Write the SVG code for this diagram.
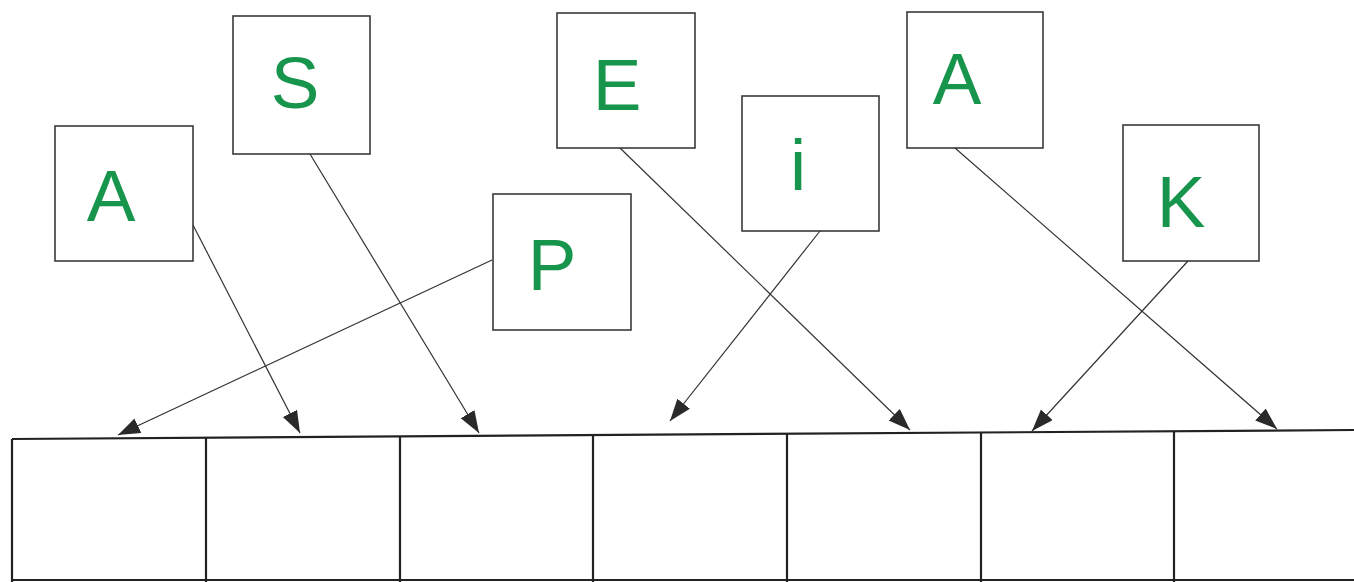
<svg xmlns="http://www.w3.org/2000/svg" width="1354" height="582" viewBox="0 0 1354 582">
<style>
.box{fill:#fff;stroke:#3a3a3a;stroke-width:1.6}
.lt{font-family:"Liberation Sans",Arial,sans-serif;font-size:73px;fill:#17954c;text-anchor:middle}
.con{stroke:#333;stroke-width:1.2;fill:none}
.grid{stroke:#222;stroke-width:2.2;fill:none}
</style>
<defs>
<marker id="ah" markerUnits="userSpaceOnUse" markerWidth="24" markerHeight="18" refX="22" refY="8" orient="auto">
<path d="M0,0 L22,8 L0,16 z" fill="#2a2a2a"/>
</marker>
</defs>
<rect width="1354" height="582" fill="#fff"/>
<g id="row">
<path class="grid" d="M12,439 L1354,430"/>
<path class="grid" d="M12,580 L1354,580"/>
<path class="grid" d="M12,439 V582 M206,437 V582 M400,436 V582 M593,435 V582 M787,433 V582 M981,432 V582 M1174,431 V582"/>
</g>
<g id="n-A1"><rect class="box" x="55" y="126" width="138" height="135"/><text class="lt" x="111" y="221">A</text></g>
<g id="n-S"><rect class="box" x="233" y="16" width="137" height="138"/><text class="lt" x="295" y="108">S</text></g>
<g id="n-P"><rect class="box" x="493" y="194" width="138" height="136"/><text class="lt" x="552" y="290">P</text></g>
<g id="n-E"><rect class="box" x="557" y="13" width="138" height="135"/><text class="lt" x="617" y="110">E</text></g>
<g id="n-i"><rect class="box" x="742" y="96" width="137" height="135"/><text class="lt" x="798" y="190">i</text></g>
<g id="n-A2"><rect class="box" x="907" y="12" width="136" height="136"/><text class="lt" x="957" y="104">A</text></g>
<g id="n-K"><rect class="box" x="1123" y="125" width="136" height="136"/><text class="lt" x="1181" y="227">K</text></g>
<g id="connectors">
<line class="con" x1="193" y1="225" x2="300" y2="433" marker-end="url(#ah)"/>
<line class="con" x1="310" y1="154" x2="479" y2="433" marker-end="url(#ah)"/>
<line class="con" x1="492" y1="260" x2="118" y2="435" marker-end="url(#ah)"/>
<line class="con" x1="620" y1="148" x2="910" y2="430" marker-end="url(#ah)"/>
<line class="con" x1="820" y1="231" x2="670" y2="421" marker-end="url(#ah)"/>
<line class="con" x1="955" y1="148" x2="1277" y2="429" marker-end="url(#ah)"/>
<line class="con" x1="1188" y1="261" x2="1032" y2="431" marker-end="url(#ah)"/>
</g>
</svg>
